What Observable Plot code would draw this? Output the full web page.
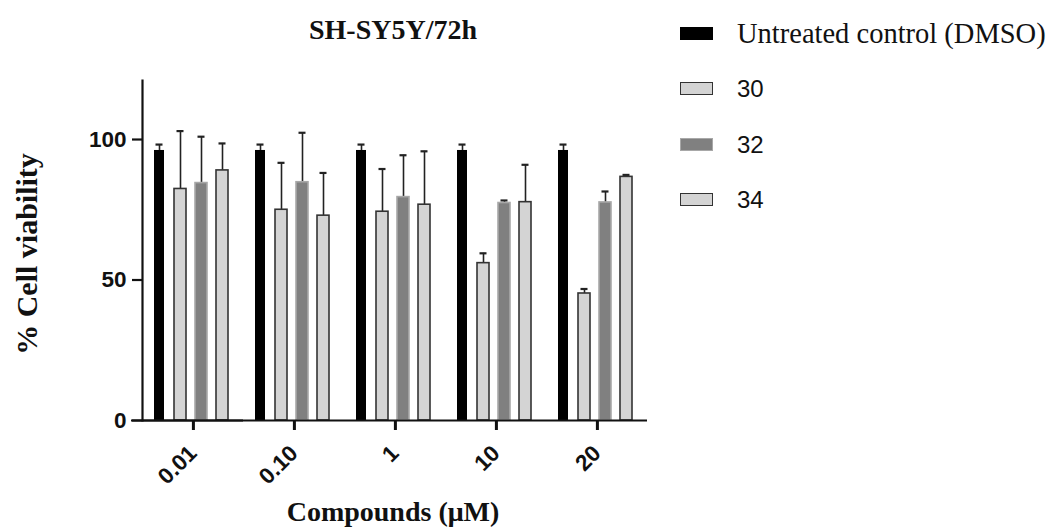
<!DOCTYPE html>
<html>
<head>
<meta charset="utf-8">
<script src="https://cdn.jsdelivr.net/npm/d3@7"></script>
<script src="https://cdn.jsdelivr.net/npm/@observablehq/plot@0.6"></script>
<style>
  html, body { margin: 0; padding: 0; background: #fff; }
  #wrap { position: relative; width: 1051px; height: 528px; overflow: hidden; background: #fff; }
  #chart { position: absolute; left: 0; top: 0; }
  .serif { font-family: "Liberation Serif", "Times New Roman", serif; color: #111; }
  .sans { font-family: "Liberation Sans", Arial, sans-serif; color: #111; }
  #title { position: absolute; left: 243px; width: 300px; top: 16px; text-align: center; font-size: 28px; font-weight: bold; line-height: 28px; }
  #ylabel { position: absolute; left: -123px; width: 300px; height: 30px; top: 239px; text-align: center; font-size: 30px; font-weight: bold; line-height: 30px; transform: rotate(-90deg); transform-origin: 150px 15px; white-space: nowrap; }
  #xlabel { position: absolute; left: 243px; width: 300px; top: 498px; text-align: center; font-size: 28px; font-weight: bold; line-height: 28px; }
  .lrow { position: absolute; left: 680px; height: 30px; }
  .sw { position: absolute; left: 0; width: 33px; height: 13px; box-sizing: border-box; }
  .lt { position: absolute; left: 57px; white-space: nowrap; }
</style>
</head>
<body>
<div id="wrap">
  <div id="chart"></div>
  <div id="title" class="serif"></div>
  <div id="ylabel" class="serif"></div>
  <div id="xlabel" class="serif"></div>
  <div id="legend"></div>
</div>
<script>
// ---- data ----
const titleText = "SH-SY5Y/72h";
const yLabel = "% Cell viability";
const xLabel = "Compounds (\u03BCM)";
const concentrations = ["0.01", "0.10", "1", "10", "20"];
const series = ["Untreated control (DMSO)", "30", "32", "34"];
const yTicks = [0, 50, 100];

const controlMean = [96.1, 96.1, 96.1, 96.1, 96.1];
const controlSD   = [2.1, 2.1, 2.1, 2.1, 2.1];
const c30Mean = [82.4, 75.0, 74.3, 56.0, 45.2];
const c30SD   = [20.6, 16.7, 15.2, 3.5, 1.6];
const c32Mean = [84.5, 84.8, 79.5, 77.4, 77.6];
const c32SD   = [16.5, 17.6, 14.9, 0.9, 3.9];
const c34Mean = [89.0, 72.9, 76.8, 77.7, 86.7];
const c34SD   = [9.6, 15.2, 19.0, 13.3, 0.7];

const means = [controlMean, c30Mean, c32Mean, c34Mean];
const sds = [controlSD, c30SD, c32SD, c34SD];

// ---- styles ----
const fills   = ["#000000", "#d4d4d4", "#808080", "#d4d4d4"];
const strokes = ["none", "#333333", "#a8a8a8", "#333333"];
const insets  = [1, 0, 0, 0];
const W = 680, H = 528, MT = 80, MB = 108, ML = 140, MR = 32;
const yMax = 121;
const tickPx = 10;
const tickUnits = tickPx * yMax / (H - MT - MB); // tick length expressed in y units

const data = concentrations.flatMap((c, i) =>
  series.map((s, j) => ({conc: c, series: s, value: means[j][i], sd: sds[j][i]}))
);

const barMarks = series.map((s, j) =>
  Plot.barY(data.filter(d => d.series === s), {
    fx: "conc", x: "series", y: "value",
    fill: fills[j], stroke: strokes[j], strokeWidth: 1.6,
    insetLeft: insets[j], insetRight: insets[j]
  })
);

const chart = Plot.plot({
  width: W,
  height: H,
  marginTop: MT,
  marginBottom: MB,
  marginLeft: ML,
  marginRight: MR,
  style: {fontFamily: "'Liberation Sans', Arial, sans-serif", fontSize: "22.5px", fontWeight: "bold", color: "#111", background: "white"},
  fx: {domain: concentrations, padding: 0, label: null, axis: null},
  x: {domain: series, paddingInner: 0.45, paddingOuter: 0.555, align: 0.4, axis: null},
  y: {domain: [0, yMax], axis: null},
  marks: [
    Plot.ruleX(data, {fx: "conc", x: "series", y1: "value", y2: d => d.value + d.sd, stroke: "#222", strokeWidth: 1.6}),
    Plot.tickY(data, {fx: "conc", x: "series", y: d => d.value + d.sd, stroke: "#222", strokeWidth: 2.2, insetLeft: 2.5, insetRight: 2.5}),
    ...barMarks,
    Plot.axisY({ticks: yTicks, tickSize: 10, tickPadding: 6, strokeWidth: 2.2, label: null}),
    Plot.axisFx({anchor: "bottom", tickRotate: -45, tickSize: 10, tickPadding: 19, strokeWidth: 2.2, label: null}),
    // facet-centre tick marks below the x axis (centre lies between bands "30" and "32")
    Plot.ruleX(concentrations, {fx: d => d, x: () => series[1], dx: 13.3, y1: 0, y2: -tickUnits, strokeWidth: 2.2, stroke: "#111"}),
    Plot.ruleY([0], {strokeWidth: 2.2, stroke: "#111"}),
    Plot.ruleY([0], {strokeWidth: 2.2, stroke: "#111", insetLeft: -11, facetAnchor: "left"}),
    Plot.frame({anchor: "left", facetAnchor: "left", strokeWidth: 2.2, stroke: "#111"})
  ]
});
document.getElementById("chart").appendChild(chart);

document.getElementById("title").textContent = titleText;
document.getElementById("ylabel").textContent = yLabel;
document.getElementById("xlabel").textContent = xLabel;

// ---- legend ----
const legendTops = [20, 75, 131, 186];
const legend = document.getElementById("legend");
series.forEach((s, j) => {
  const row = document.createElement("div");
  row.className = "lrow";
  row.style.top = legendTops[j] + "px";
  const sw = document.createElement("div");
  sw.className = "sw";
  sw.style.top = "7px";
  sw.style.background = fills[j];
  if (strokes[j] !== "none") sw.style.border = "1.6px solid " + strokes[j];
  const t = document.createElement("div");
  t.className = "lt " + (j === 0 ? "serif" : "sans");
  t.textContent = s;
  if (j === 0) { t.style.fontSize = "28.5px"; t.style.lineHeight = "28px"; t.style.top = "0px"; }
  else { t.style.fontSize = "24px"; t.style.lineHeight = "24px"; t.style.top = "2px"; }
  row.appendChild(sw);
  row.appendChild(t);
  legend.appendChild(row);
});
</script>
</body>
</html>
